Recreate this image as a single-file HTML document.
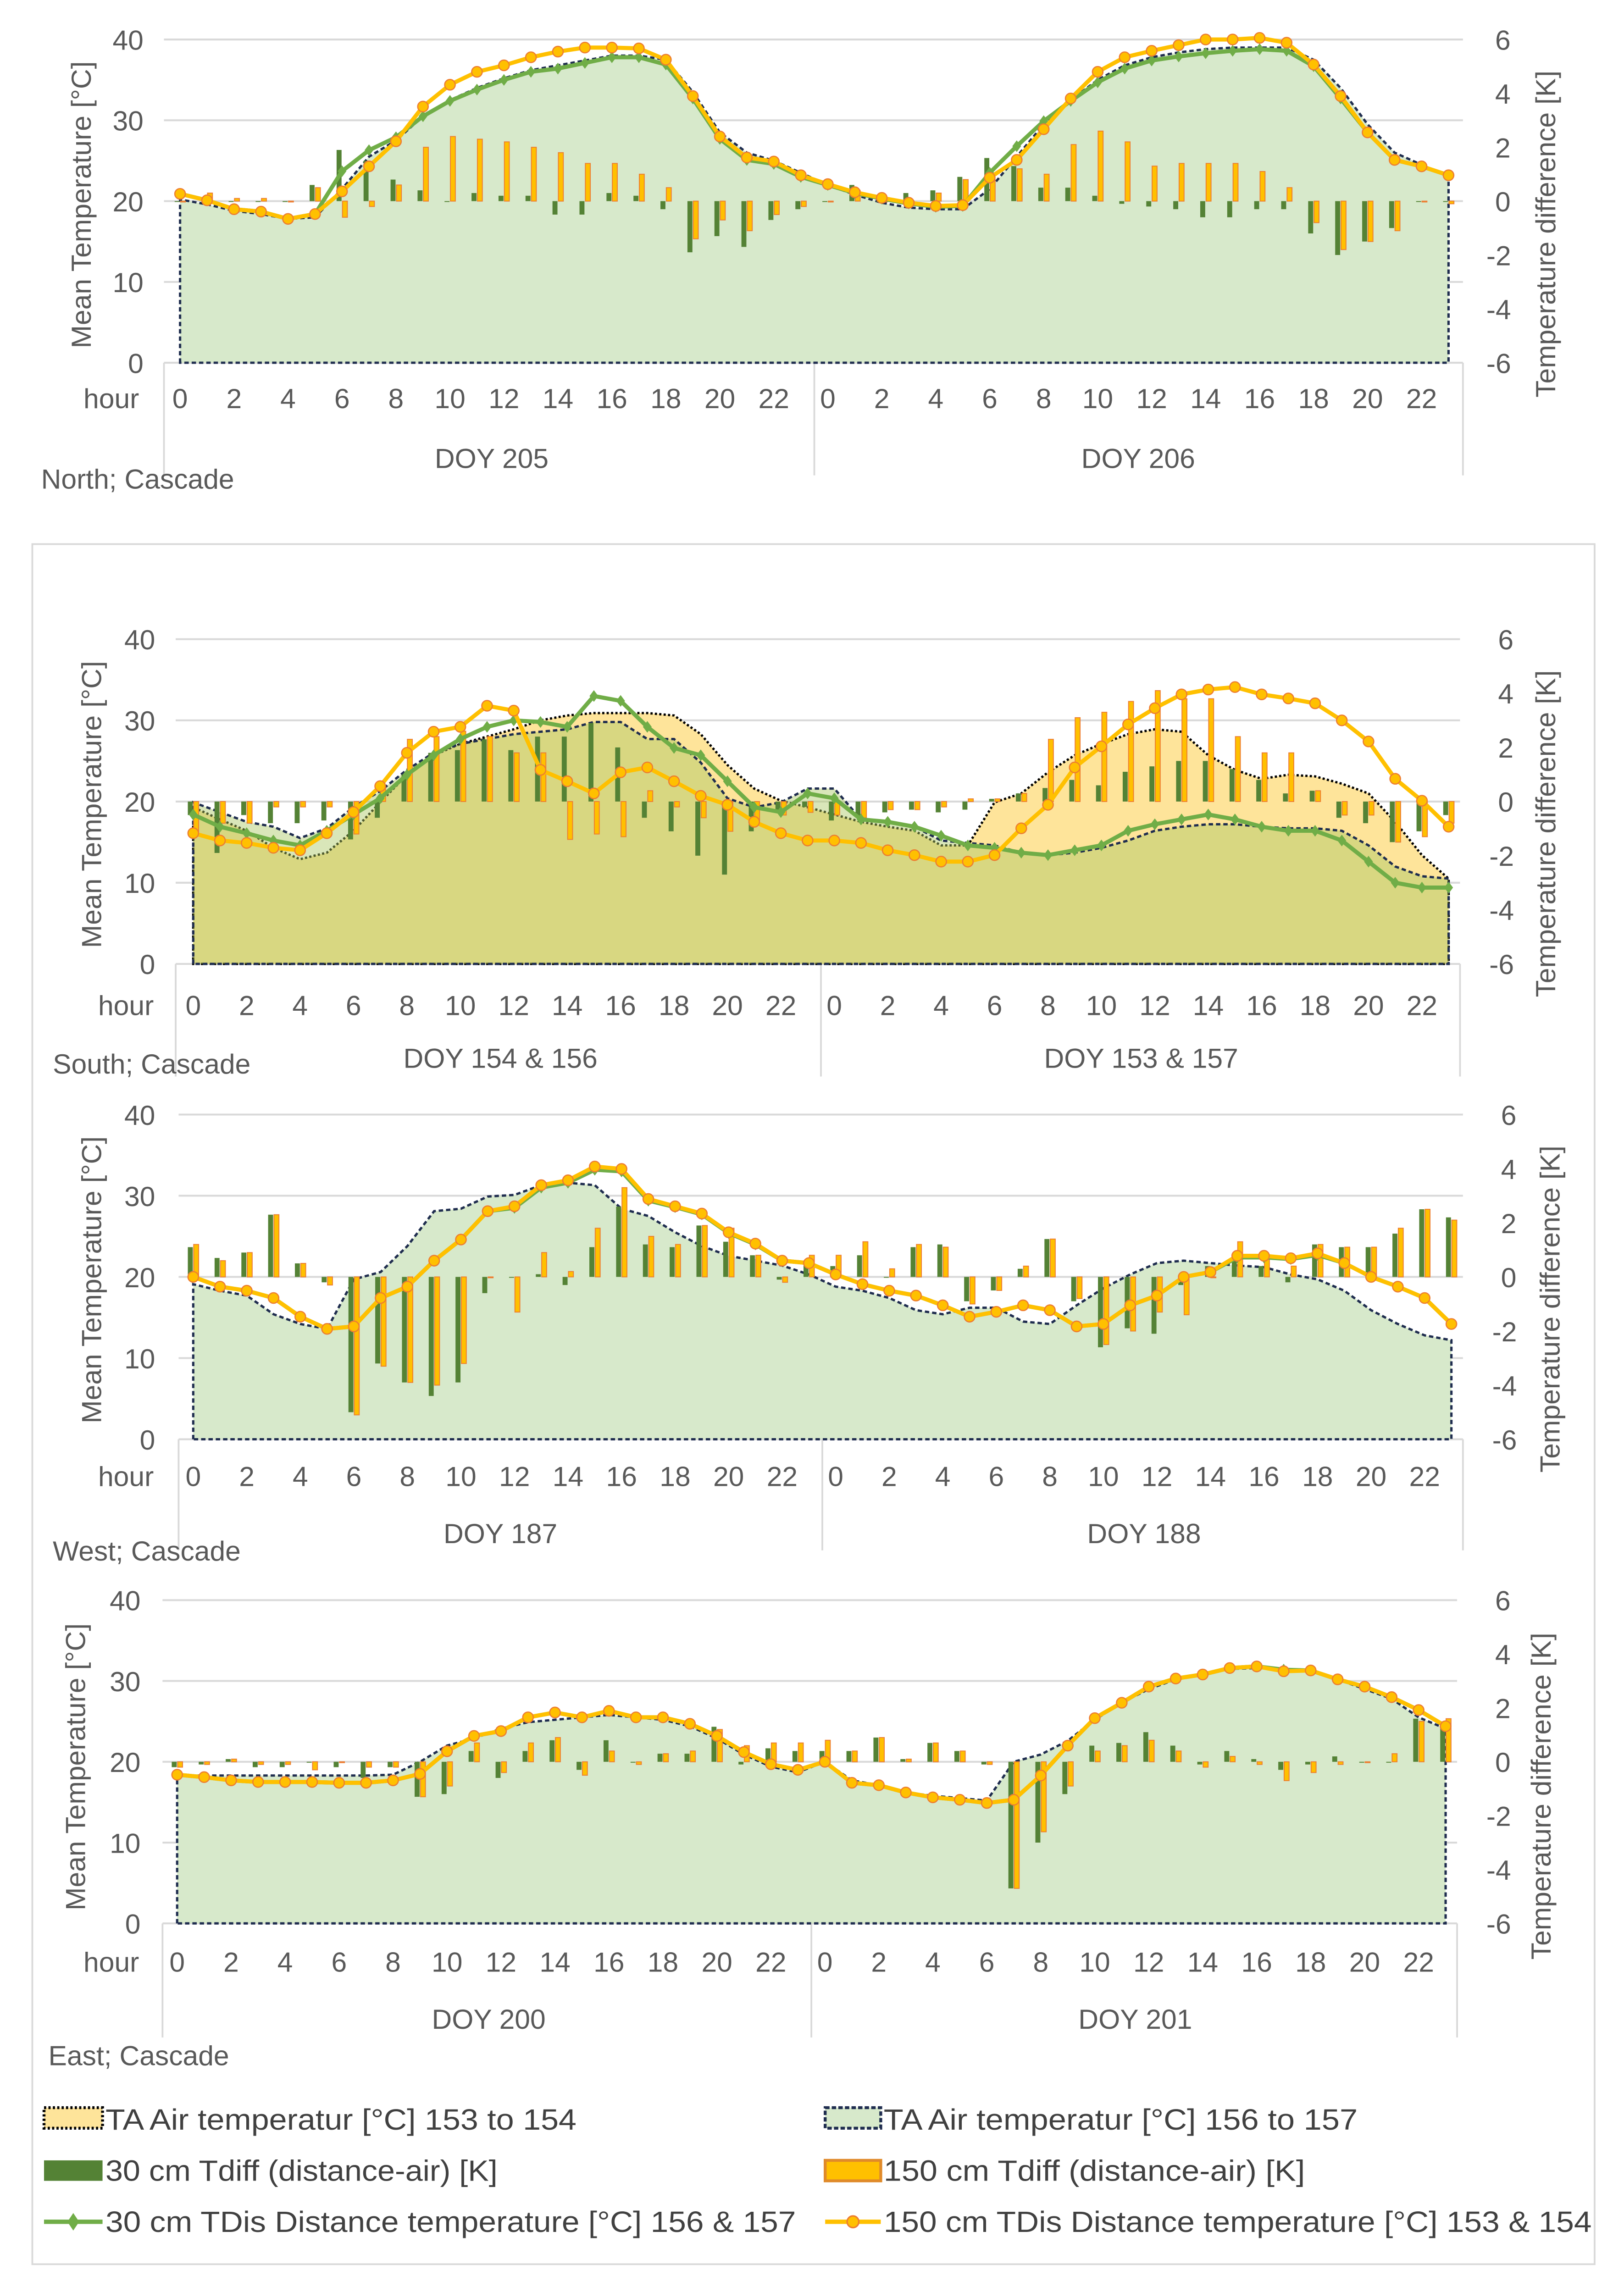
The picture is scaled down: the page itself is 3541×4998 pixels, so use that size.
<!DOCTYPE html>
<html><head><meta charset="utf-8"><style>
html,body{margin:0;padding:0;background:#fff;}
svg{display:block;font-family:"Liberation Sans",Arial,sans-serif;}
.tk{font-size:19px;fill:#595959;}
.ttl{font-size:19px;fill:#595959;}
.lg{font-size:20px;fill:#404040;}
</style></head><body>
<svg id="chart" width="3541" height="4998" viewBox="0 0 1110 1567" xmlns="http://www.w3.org/2000/svg">
<rect x="0" y="0" width="1110" height="1567" fill="#fff"/>
<rect x="22" y="372" width="1068" height="1176" fill="none" stroke="#d9d9d9" stroke-width="1.2"/>
<g id="panels"></g>
<!-- axis titles -->
<text class="ttl" transform="translate(62,140) rotate(-90)" text-anchor="middle">Mean Temperature [°C]</text>
<text class="ttl" transform="translate(1063,160) rotate(-90)" text-anchor="middle">Temperature difference [K]</text>
<text class="ttl" transform="translate(69,550) rotate(-90)" text-anchor="middle">Mean Temperature [°C]</text>
<text class="ttl" transform="translate(1063,570) rotate(-90)" text-anchor="middle">Temperature difference [K]</text>
<text class="ttl" transform="translate(69,875) rotate(-90)" text-anchor="middle">Mean Temperature [°C]</text>
<text class="ttl" transform="translate(1066,895) rotate(-90)" text-anchor="middle">Temperature difference [K]</text>
<text class="ttl" transform="translate(58,1208) rotate(-90)" text-anchor="middle">Mean Temperature [°C]</text>
<text class="ttl" transform="translate(1060,1228) rotate(-90)" text-anchor="middle">Temperature difference [K]</text>
<!-- panel labels -->
<text class="ttl" x="28" y="334">North; Cascade</text>
<text class="ttl" x="36" y="734">South; Cascade</text>
<text class="ttl" x="36" y="1067">West; Cascade</text>
<text class="ttl" x="33" y="1412">East; Cascade</text>
<!-- day labels -->
<text class="ttl" x="336" y="320" text-anchor="middle">DOY 205</text>
<text class="ttl" x="778" y="320" text-anchor="middle">DOY 206</text>
<text class="ttl" x="342" y="730" text-anchor="middle">DOY 154 &amp; 156</text>
<text class="ttl" x="780" y="730" text-anchor="middle">DOY 153 &amp; 157</text>
<text class="ttl" x="342" y="1055" text-anchor="middle">DOY 187</text>
<text class="ttl" x="782" y="1055" text-anchor="middle">DOY 188</text>
<text class="ttl" x="334" y="1387" text-anchor="middle">DOY 200</text>
<text class="ttl" x="776" y="1387" text-anchor="middle">DOY 201</text>
<!-- legend -->
<g>
 <g>
  <rect x="30" y="1441" width="40" height="14" fill="#fee49a" stroke="#000" stroke-width="2" stroke-dasharray="1.5,1.5"/>
  <text class="lg" x="72" y="1456" textLength="322" lengthAdjust="spacingAndGlyphs">TA Air temperatur [°C] 153 to 154</text>
 </g>
 <g>
  <rect x="564" y="1441" width="38" height="14" fill="#d7e9cb" stroke="#1f2d4f" stroke-width="2" stroke-dasharray="3,1.5"/>
  <text class="lg" x="604" y="1456" textLength="324" lengthAdjust="spacingAndGlyphs">TA Air temperatur [°C] 156 to 157</text>
 </g>
 <g>
  <rect x="30" y="1477" width="40" height="14" fill="#548235"/>
  <text class="lg" x="72" y="1491" textLength="268" lengthAdjust="spacingAndGlyphs">30 cm Tdiff (distance-air) [K]</text>
 </g>
 <g>
  <rect x="564" y="1477" width="38" height="14" fill="#ffc000" stroke="#e08a2a" stroke-width="2"/>
  <text class="lg" x="604" y="1491" textLength="288" lengthAdjust="spacingAndGlyphs">150 cm Tdiff (distance-air) [K]</text>
 </g>
 <g>
  <line x1="30" y1="1519" x2="70" y2="1519" stroke="#70ad47" stroke-width="3"/>
  <path d="M50 1513 L54 1519 L50 1525 L46 1519 Z" fill="#70ad47"/>
  <text class="lg" x="72" y="1526" textLength="472" lengthAdjust="spacingAndGlyphs">30 cm TDis Distance temperature [°C] 156 &amp; 157</text>
 </g>
 <g>
  <line x1="564" y1="1519" x2="602" y2="1519" stroke="#ffc000" stroke-width="3"/>
  <circle cx="583" cy="1519" r="4" fill="#ffc000" stroke="#ed7d31" stroke-width="1"/>
  <text class="lg" x="604" y="1526" textLength="484" lengthAdjust="spacingAndGlyphs">150 cm TDis Distance temperature [°C] 153 &amp; 154</text>
 </g>
</g>
</svg>
<script>
// ---- shared tick arrays ----
const hourTicks = [0,2,4,6,8,10,12,14,16,18,20,22];
const leftTicks = [0,10,20,30,40];
const rightTicks = [-6,-4,-2,0,2,4,6];

// ---- North panel data ----
const north_ta   = [20.2,19.6,18.8,18.4,17.8,18.0,21.5,25.5,27.5,30.5,32.5,34,35.2,36.2,36.8,37.4,38,38,37.5,33.5,28.5,26,25,23.5,22,20.8,19.8,19.2,19.0,19.0,21.5,25.5,29.5,32.5,35,36.8,37.8,38.4,38.8,39,39,39,37.5,34,29.5,26,24.5,23];
const north_g30  = [20.9,20.1,19.0,18.7,17.8,18.4,23.7,26.3,27.9,30.5,32.4,33.8,35.0,36.0,36.4,37.1,37.8,37.8,36.9,32.7,27.7,25.1,24.6,23,22,21,20.3,19.7,19.3,19.4,23.5,26.8,29.9,32.4,34.7,36.4,37.4,37.9,38.3,38.6,38.8,38.6,36.7,32.7,28.5,25.1,24.3,23.2];
const north_o150 = [20.9,20.1,19.0,18.7,17.8,18.4,21.2,24.3,27.4,31.7,34.4,36.0,36.8,37.8,38.5,39.0,39.0,38.9,37.5,33.0,28.0,25.4,24.9,23.2,22.1,21.1,20.4,19.8,19.4,19.5,22.9,25.1,28.9,32.7,36.0,37.8,38.6,39.3,40.0,40.0,40.2,39.6,36.9,33.0,28.5,25.1,24.3,23.2];
const north_b30  = [0,0,0,0,0,0.6,1.9,1.5,0.8,0.4,0,0.3,0.2,0.2,-0.5,-0.5,0.3,0.2,-0.3,-1.9,-1.3,-1.7,-0.7,-0.3,0,0.6,0,0.3,0.4,0.9,1.6,1.3,0.5,0.5,0.2,-0.1,-0.2,-0.3,-0.6,-0.6,-0.3,-0.3,-1.2,-2.0,-1.5,-1.0,0,0];
const north_b150 = [0,0.3,0.1,0.1,0,0.5,-0.6,-0.2,0.6,2.0,2.4,2.3,2.2,2.0,1.8,1.4,1.4,1.0,0.5,-1.4,-0.7,-1.1,-0.5,-0.2,0,0.4,0,0,0.3,0.8,0.8,1.2,1.0,2.1,2.6,2.2,1.3,1.4,1.4,1.4,1.1,0.5,-0.8,-1.8,-1.5,-1.1,0,-0.1];

// ---- South panel data ----
const south_ta153 = [19.3,17.8,16.4,14.3,12.9,13.7,16.4,19.9,23.3,25.7,27.1,28,28.9,30,30.6,30.9,30.9,30.9,30.6,28.3,24.5,21.6,20.1,19.3,18.4,17.5,16.9,16.4,14.6,14.6,19.9,21,23.6,25.7,27.1,28.3,28.9,28.6,25.7,23.9,22.8,23.3,23.1,22.2,21,17.5,13.4,10.5];
const south_ta156 = [19.9,18.7,17.5,16.9,15.5,16.7,19.3,21.3,23.9,26,27.1,27.7,28.3,28.6,28.9,29.8,29.8,27.7,27.7,24.8,20.4,19.3,19.9,21.6,21.6,17.8,17.5,16.9,15.2,14.9,14.6,13.7,13.4,13.7,14.3,15.2,16.4,16.9,17.2,17.2,16.9,16.7,16.7,16.4,14.6,12,10.8,10.5];
const south_g30  = [18.4,16.9,16.1,15.2,14.6,16.4,18.4,20.4,23.3,25.7,27.7,29.2,30,29.8,29.2,33,32.4,29.2,26.6,25.7,22.5,19.3,18.7,21,20.4,17.8,17.5,16.9,15.8,14.6,14.3,13.7,13.4,14,14.6,16.4,17.2,17.8,18.4,17.8,16.9,16.4,16.4,15.2,12.6,10,9.4,9.4];
const south_o150 = [16.1,15.2,14.9,14.3,14,16.1,18.7,21.9,26,28.6,29.2,31.8,31.2,23.9,22.5,21,23.6,24.2,22.5,20.7,19.6,17.5,16.1,15.2,15.2,14.9,14,13.4,12.6,12.6,13.4,16.7,19.6,24.2,26.8,29.5,31.5,33.2,33.8,34.1,33.2,32.7,32.1,30,27.4,22.8,20.1,16.9];
const south_b30  = [-0.5,-1.9,-0.5,-0.8,-0.8,-0.7,-1.4,-0.6,1.0,1.8,1.9,2.3,1.9,2.4,2.4,2.9,2.0,-0.6,-1.1,-2.0,-2.7,-1.1,-0.3,-0.2,-0.7,-0.6,-0.4,-0.3,-0.4,-0.3,0.1,0.3,0.5,0.8,0.6,1.1,1.3,1.5,1.5,1.2,0.8,0.3,0.4,-0.6,-0.8,-1.5,-1.1,-0.5];
const south_b150 = [-1.2,-0.8,-0.8,-0.2,-0.2,-0.2,-1.2,0.5,2.3,2.4,2.6,2.4,1.8,1.8,-1.4,-1.2,-1.3,0.4,-0.2,-0.6,-1.1,-0.8,-0.5,-0.4,-0.5,-0.6,-0.3,-0.3,-0.2,0.1,0.1,0.3,2.3,3.1,3.3,3.7,4.1,3.8,3.8,2.4,1.8,1.8,0.4,-0.5,-0.5,-1.5,-1.3,-0.8];

// ---- West panel data ----
const west_ta   = [19.1,18.3,17.7,15.4,14.2,13.6,19.7,20.6,23.8,28.1,28.4,29.9,30.1,31.3,31.6,31.3,28.4,27.5,25.5,23.8,22.6,22,21.4,20.3,18.8,18.3,17.4,15.9,15.4,16.2,16.2,14.5,14.2,16.5,18.6,20.3,21.7,22,21.7,21.4,21.2,20.3,19.7,18.3,15.9,14.2,12.8,12.2];
const west_g30  = [20,18.8,18.3,17.4,15.1,13.6,13.9,17.4,18.8,22,24.6,28.1,28.5,31,31.6,33.2,33,29.4,28.6,27.7,25.4,24,22,21.7,20.3,19.1,18.3,17.7,16.5,15.1,15.7,16.5,15.9,13.9,14.2,16.5,17.7,20,20.6,22.4,22.4,22.2,22.7,21.7,20,18.8,17.4,14.2];
const west_o150 = [20,18.8,18.3,17.4,15.1,13.6,13.9,17.4,18.8,22,24.6,28.1,28.7,31.3,31.9,33.6,33.3,29.6,28.7,27.8,25.5,24.1,22,21.7,20.3,19.1,18.3,17.7,16.5,15.1,15.7,16.5,15.9,13.9,14.2,16.5,17.7,20,20.6,22.6,22.6,22.3,22.9,21.7,20,18.8,17.4,14.2];
const west_b30  = [1.1,0.7,0.9,2.3,0.5,-0.2,-5.0,-3.2,-3.9,-4.4,-3.9,-0.6,0,0.1,-0.3,1.1,2.6,1.2,1.1,1.9,1.3,0.8,-0.1,0.5,0.4,0.8,0,1.1,1.2,-0.9,-0.5,0.3,1.4,-0.9,-2.6,-1.9,-2.1,-0.3,0.4,0.7,0.4,-0.2,1.2,1.1,1.1,1.6,2.5,2.2];
const west_b150 = [1.2,0.6,0.9,2.3,0.5,-0.3,-5.1,-3.3,-3.9,-4.0,-3.2,0,-1.3,0.9,0.2,1.8,3.3,1.5,1.2,1.9,1.8,0.8,-0.2,0.8,0.8,1.3,0.3,1.2,1.1,-1.0,-0.5,0.4,1.4,-0.8,-2.5,-2.0,-1.3,-1.4,0,1.3,0.7,0.4,1.2,1.1,1.1,1.8,2.5,2.1];

// ---- East panel data ----
const east_ta   = [18.3,18.3,18.3,18.3,18.3,18.3,18.3,18.3,18.4,20,22,22.9,24.1,24.9,25.2,25.5,25.8,25.5,25.2,24.4,22.9,20.9,19.4,18.7,20,17.7,17.1,16.2,15.8,15.5,15.2,20,20.9,22.6,25.2,27.3,29,30.2,30.8,31.5,31.6,31.5,31.3,30.2,29,27.8,25.5,24.1];
const east_g30  = [18.4,18.1,17.7,17.5,17.5,17.5,17.4,17.4,17.7,18.5,21.3,23.2,23.8,25.5,26.1,25.5,26.3,25.5,25.5,24.7,23.2,21.2,19.7,19,20,17.4,17.1,16.2,15.6,15.3,14.9,15.3,18.3,22,25.4,27.3,29.3,30.3,30.8,31.6,31.8,31.4,31.3,30.2,29.3,28,26.4,24.4];
const east_o150 = [18.4,18.1,17.7,17.5,17.5,17.5,17.4,17.4,17.7,18.5,21.3,23.2,23.8,25.5,26.1,25.5,26.3,25.5,25.5,24.7,23.2,21.2,19.7,19,20,17.4,17.1,16.2,15.6,15.3,14.9,15.3,18.3,22,25.4,27.3,29.3,30.3,30.8,31.6,31.8,31.2,31.3,30.2,29.3,28,26.4,24.4];
const east_b30  = [-0.2,-0.1,0.1,-0.2,-0.2,0,-0.2,-0.6,-0.2,-1.3,-1.2,0.4,-0.6,0.4,0.8,-0.3,0.8,0,0.3,0.3,1.3,-0.1,0.5,0.4,0.4,0.4,0.9,0.1,0.7,0.4,-0.1,-4.7,-3.0,-1.2,0.6,0.7,1.1,0.6,-0.1,0.4,0.1,-0.3,-0.1,0.2,0,0,1.6,1.5];
const east_b150 = [-0.2,-0.1,0.1,-0.1,-0.1,-0.3,0,-0.2,-0.2,-1.3,-0.9,0.7,-0.4,0.7,0.9,-0.5,0.4,-0.1,0.3,0.4,1.2,0.6,0.7,0.7,0.8,0.4,0.9,0.1,0.7,0.4,-0.1,-4.7,-2.6,-0.9,0.4,0.6,0.8,0.4,-0.2,0.2,-0.1,-0.7,-0.4,-0.1,0,0.3,1.5,1.6];

const NS = 'http://www.w3.org/2000/svg';
const root = document.getElementById('panels');
function mk(tag, parent){ const e = document.createElementNS(NS, tag); parent.appendChild(e); return e; }

const panels = [
 {key:'north', x0:123, dx:18.45, top:27, bot:248, gl:112, gr:1000, lx:98, rx:1016, hy:279, hourX:76, sepBot:325, ta:[north_ta], taFill:['#d7e9cb'], taStroke:['#1f2d4f'], taDash:['3,2'], g:north_g30, o:north_o150, b30:north_b30, b150:north_b150},
 {key:'south', x0:132, dx:18.26, top:437, bot:659, gl:120, gr:998, lx:106, rx:1018, hy:694, hourX:86, sepBot:736, ta:[south_ta153, south_ta156], taFill:['#fee49a','rgba(170,200,100,0.45)'], taStroke:['#000','#1f2d4f'], taDash:['1.5,1.5','3,2'], g:south_g30, o:south_o150, b30:south_b30, b150:south_b150},
 {key:'west', x0:132, dx:18.3, top:762, bot:984, gl:122, gr:1000, lx:106, rx:1020, hy:1016, hourX:86, sepBot:1060, ta:[west_ta], taFill:['#d7e9cb'], taStroke:['#1f2d4f'], taDash:['3,2'], g:west_g30, o:west_o150, b30:west_b30, b150:west_b150},
 {key:'east', x0:121, dx:18.45, top:1094, bot:1315, gl:111, gr:996, lx:96, rx:1016, hy:1348, hourX:76, sepBot:1393, ta:[east_ta], taFill:['#d7e9cb'], taStroke:['#1f2d4f'], taDash:['3,2'], g:east_g30, o:east_o150, b30:east_b30, b150:east_b150}
];

panels.forEach(function(c){
  const xH = i => c.x0 + i*c.dx;
  const yT = v => c.bot - (v/40)*(c.bot-c.top);
  const yK = v => c.bot - ((v+6)/12)*(c.bot-c.top);
  const g = mk('g', root);
  
  

  // gridlines
  leftTicks.forEach(function(t){
    const ln = mk('line', g);
    
    
    ln.setAttribute('x1', c.gl); ln.setAttribute('x2', c.gr);
    ln.setAttribute('y1', yT(t)); ln.setAttribute('y2', yT(t));
    ln.setAttribute('stroke', '#d9d9d9'); ln.setAttribute('stroke-width', 1.3);
    const tx = mk('text', g);
    
    
    tx.setAttribute('class', 'tk'); tx.setAttribute('x', c.lx); tx.setAttribute('y', yT(t)+7);
    tx.setAttribute('text-anchor', 'end'); tx.textContent = t;
  });
  rightTicks.forEach(function(t){
    const tx = mk('text', g);
    
    
    tx.setAttribute('class', 'tk'); tx.setAttribute('x', c.rx + (t<0?0:6)); tx.setAttribute('y', yK(t)+7);
    tx.textContent = t;
  });
  // category axis frame
  [c.gl, (c.gl+c.gr)/2 + 0, c.gr].forEach(function(x, k){
    const ln = mk('line', g);
    
    
    const xx = k===1 ? xH(23.5) : x;
    ln.setAttribute('x1', xx); ln.setAttribute('x2', xx);
    ln.setAttribute('y1', c.bot); ln.setAttribute('y2', c.sepBot);
    ln.setAttribute('stroke', '#d9d9d9'); ln.setAttribute('stroke-width', 1.2);
  });
  const hr = mk('text', g);
  
  
  hr.setAttribute('class', 'tk'); hr.setAttribute('x', c.hourX); hr.setAttribute('y', c.hy);
  hr.setAttribute('text-anchor', 'middle'); hr.textContent = 'hour';
  [0,24].forEach(function(off){
    hourTicks.forEach(function(h){
      const tx = mk('text', g);
      
      
      tx.setAttribute('class', 'tk'); tx.setAttribute('x', xH(h+off)); tx.setAttribute('y', c.hy);
      tx.setAttribute('text-anchor', 'middle'); tx.textContent = h;
    });
  });

  // TA areas
  c.ta.forEach(function(arr, k){
    let d = 'M' + xH(0) + ' ' + yT(0);
    arr.forEach(function(v, i){ d += ' L' + xH(i) + ' ' + yT(v); });
    d += ' L' + xH(arr.length-1) + ' ' + yT(0) + ' Z';
    const p = mk('path', g);
    
    
    p.setAttribute('d', d); p.setAttribute('fill', c.taFill[k]);
    p.setAttribute('stroke', c.taStroke[k]); p.setAttribute('stroke-width', 1.6);
    p.setAttribute('stroke-dasharray', c.taDash[k]);
  });

  // bars
  const bw = 3.4;
  c.b30.forEach(function(v, i){
    const r = mk('rect', g);
    
    
    const y0 = yK(0), y1 = yK(v);
    r.setAttribute('x', xH(i)-bw-0.3); r.setAttribute('width', bw);
    r.setAttribute('y', Math.min(y0,y1)); r.setAttribute('height', Math.max(0.6, Math.abs(y1-y0)));
    r.setAttribute('fill', '#548235');
  });
  c.b150.forEach(function(v, i){
    const r = mk('rect', g);
    
    
    const y0 = yK(0), y1 = yK(v);
    r.setAttribute('x', xH(i)+0.3); r.setAttribute('width', bw);
    r.setAttribute('y', Math.min(y0,y1)); r.setAttribute('height', Math.max(0.6, Math.abs(y1-y0)));
    r.setAttribute('fill', '#ffc000'); r.setAttribute('stroke', '#ed7d31'); r.setAttribute('stroke-width', 0.6);
  });

  // lines
  function line(arr, color, name){
    const pl = mk('polyline', g);
    
    
    pl.setAttribute('points', arr.map((v,i) => xH(i)+','+yT(v)).join(' '));
    pl.setAttribute('fill', 'none'); pl.setAttribute('stroke', color); pl.setAttribute('stroke-width', 2.8);
    pl.setAttribute('stroke-linejoin', 'round');
  }
  line(c.g, '#70ad47', 'line-tdis-30cm');
  c.g.forEach(function(v, i){
    const m = mk('path', g);
    
    
    const x = xH(i), y = yT(v);
    m.setAttribute('d', 'M'+x+' '+(y-4)+' L'+(x+3)+' '+y+' L'+x+' '+(y+4)+' L'+(x-3)+' '+y+' Z');
    m.setAttribute('fill', '#70ad47');
  });
  line(c.o, '#ffc000', 'line-tdis-150cm');
  c.o.forEach(function(v, i){
    const m = mk('circle', g);
    
    
    m.setAttribute('cx', xH(i)); m.setAttribute('cy', yT(v)); m.setAttribute('r', 3.6);
    m.setAttribute('fill', '#ffc000'); m.setAttribute('stroke', '#ed7d31'); m.setAttribute('stroke-width', 0.8);
  });
});
</script>
</body></html>
